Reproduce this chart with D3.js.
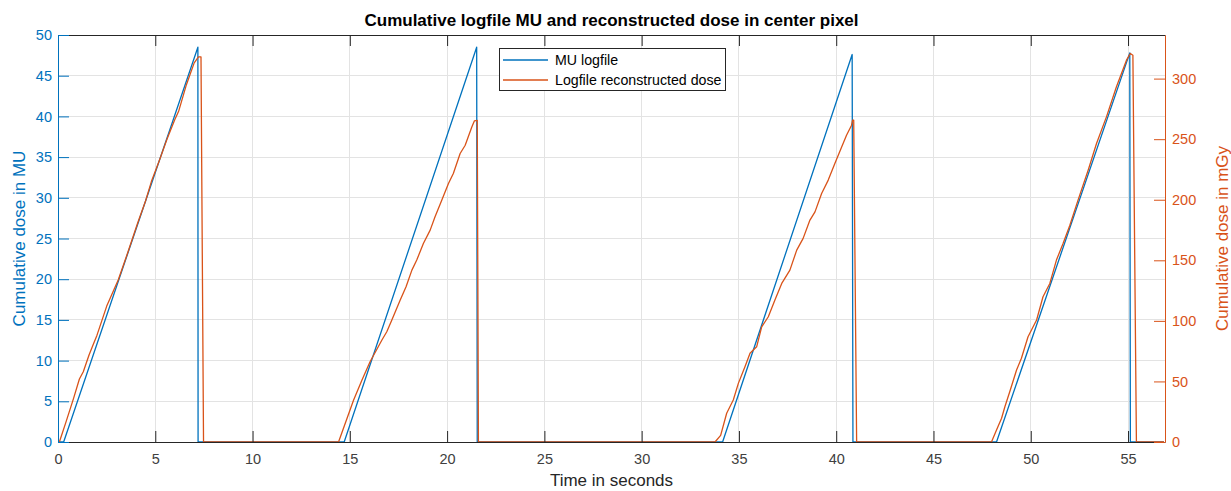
<!DOCTYPE html>
<html>
<head>
<meta charset="utf-8">
<script src="https://cdn.jsdelivr.net/npm/d3@7"></script>
<style>
  html, body { margin: 0; padding: 0; background: #ffffff; }
  svg { display: block; font-family: "Liberation Sans", Arial, Helvetica, sans-serif; }
</style>
</head>
<body>
<svg id="chart" width="1231" height="491"></svg>
<script>
// ---- data ----
const titleText = "Cumulative logfile MU and reconstructed dose in center pixel";
const xLabel = "Time in seconds";
const yLeftLabel = "Cumulative dose in MU";
const yRightLabel = "Cumulative dose in mGy";
const seriesNames = ["MU logfile", "Logfile reconstructed dose"];

const xTicks = [0, 5, 10, 15, 20, 25, 30, 35, 40, 45, 50, 55];
const yLeftTicks = [0, 5, 10, 15, 20, 25, 30, 35, 40, 45, 50];
const yRightTicks = [0, 50, 100, 150, 200, 250, 300];
const xDomain = [0, 56.9];
const yLeftDomain = [0, 50];
const yRightDomain = [0, 336];

// MU logfile (left axis, MU)
const muTime = [0, 0.29, 7.19, 7.20, 14.71, 21.52, 21.55, 34.16, 40.82, 40.86, 48.24, 55.09, 55.12, 56.85];
const muValue = [0, 0, 48.5, 0, 0, 48.5, 0, 0, 47.6, 0, 0, 47.8, 0, 0];

// Logfile reconstructed dose (right axis, mGy)
const doseTime = [
  0, 0.07, 0.4, 0.8, 1.1, 1.3, 1.6, 1.8, 2.0, 2.5, 3.1, 3.6, 4.1, 4.5, 4.8, 5.2, 5.6, 6.0, 6.2, 6.6, 7.0, 7.22, 7.35, 7.48,
  14.42, 15.19, 15.62, 16.04, 16.65, 16.90, 17.16, 17.59, 17.89, 18.19, 18.44, 18.78, 19.13, 19.38, 19.73, 20.07, 20.32, 20.67, 20.93, 21.27, 21.40, 21.55, 21.61,
  33.77, 34.06, 34.37, 34.71, 34.97, 35.31, 35.57, 35.91, 36.17, 36.51, 36.85, 37.20, 37.62, 37.97, 38.30, 38.65, 38.91, 39.25, 39.59, 39.93, 40.28, 40.53, 40.79, 40.84, 40.90, 41.05,
  47.98, 48.24, 48.50, 48.67, 48.92, 49.27, 49.52, 49.86, 50.30, 50.63, 50.98, 51.32, 51.66, 52.01, 52.43, 52.95, 53.38, 53.89, 54.40, 54.92, 55.12, 55.25, 55.43,
  56.85
];
const doseValue = [
  0, 0, 16, 36, 52, 58, 72, 80, 88, 112, 134, 157, 181, 199, 215, 232, 250, 266, 273, 295, 313, 317.9, 317.9, 0,
  0, 34.4, 51.0, 66.3, 84.2, 91.0, 100.7, 117.2, 128.1, 141.9, 150.2, 163.9, 174.9, 185.9, 199.7, 213.4, 221.7, 238.2, 245.0, 260.1, 265.1, 265.5, 0,
  0, 5.5, 23.7, 34.7, 48.4, 62.1, 73.2, 78.6, 95.1, 103.4, 117.2, 130.9, 141.9, 158.4, 168.1, 183.2, 190.0, 205.2, 216.2, 229.9, 243.6, 253.3, 261.5, 265.7, 265.7, 0,
  0, 9.9, 19.6, 29.1, 41.5, 59.4, 69.1, 86.9, 100.7, 119.9, 130.9, 150.2, 163.9, 179.0, 199.7, 224.4, 246.4, 268.4, 293.1, 315.2, 320.7, 319.3, 0,
  0
];

// ---- styling / layout ----
const blue = "#0072BD";
const orange = "#D95319";
const dark = "#262626";
const gridColor = "#e3e3e3";
const W = 1231, H = 491;
const x0 = 58, x1 = 1165, y0 = 442, y1 = 35;

const svg = d3.select("#chart");
svg.append("rect").attr("width", W).attr("height", H).attr("fill", "#fff");

const x = d3.scaleLinear().domain(xDomain).range([x0, x1]);
const yL = d3.scaleLinear().domain(yLeftDomain).range([y0, y1]);
const yR = d3.scaleLinear().domain(yRightDomain).range([y0, y1]);

// grid
const grid = svg.append("g");
grid.selectAll("line.vx").data(xTicks).join("line")
  .attr("x1", d => x(d)).attr("x2", d => x(d)).attr("y1", y0).attr("y2", y1)
  .attr("stroke", gridColor).attr("stroke-width", 1).attr("shape-rendering", "crispEdges");
grid.selectAll("line.hy").data(yLeftTicks).join("line")
  .attr("x1", x0).attr("x2", x1).attr("y1", d => yL(d)).attr("y2", d => yL(d))
  .attr("stroke", gridColor).attr("stroke-width", 1).attr("shape-rendering", "crispEdges");

// lines
const muData = muTime.map((t, i) => [t, muValue[i]]);
const doseData = doseTime.map((t, i) => [t, doseValue[i]]);
svg.append("path").datum(muData)
  .attr("d", d3.line().x(d => x(d[0])).y(d => yL(d[1])))
  .attr("fill", "none").attr("stroke", blue).attr("stroke-width", 1.3).attr("stroke-linejoin", "round");
svg.append("path").datum(doseData)
  .attr("d", d3.line().x(d => x(d[0])).y(d => yR(d[1])))
  .attr("fill", "none").attr("stroke", orange).attr("stroke-width", 1.3).attr("stroke-linejoin", "round");

// axes (MATLAB style: inward ticks)
const tickLen = 11;
const fs = "14.5px";
const ff = "Liberation Sans, Arial, sans-serif";
const bottomAxis = svg.append("g").attr("transform", `translate(0,${y0})`)
  .call(d3.axisBottom(x).tickValues(xTicks).tickSizeInner(-tickLen).tickSizeOuter(0).tickPadding(12));
const topAxis = svg.append("g").attr("transform", `translate(0,${y1})`)
  .call(d3.axisTop(x).tickValues(xTicks).tickSizeInner(-tickLen).tickSizeOuter(0).tickFormat(""));
[bottomAxis, topAxis].forEach(g => {
  g.select(".domain").attr("stroke", dark);
  g.selectAll(".tick line").attr("stroke", dark);
  g.selectAll("text").attr("fill", "#404040").style("font-size", fs).style("font-family", ff);
});
const leftAxis = svg.append("g").attr("transform", `translate(${x0},0)`)
  .call(d3.axisLeft(yL).tickValues(yLeftTicks).tickSizeInner(-tickLen).tickSizeOuter(0).tickPadding(6));
leftAxis.select(".domain").attr("stroke", blue);
leftAxis.selectAll(".tick line").attr("stroke", blue);
leftAxis.selectAll("text").attr("fill", blue).style("font-size", fs).style("font-family", ff);

const rightAxis = svg.append("g").attr("transform", `translate(${x1},0)`)
  .call(d3.axisRight(yR).tickValues(yRightTicks).tickSizeInner(-tickLen).tickSizeOuter(0).tickPadding(7));
rightAxis.select(".domain").attr("stroke", orange);
rightAxis.selectAll(".tick line").attr("stroke", orange);
rightAxis.selectAll("text").attr("fill", orange).style("font-size", fs).style("font-family", ff);

// title and labels
svg.append("text").attr("x", (x0 + x1) / 2).attr("y", 26).attr("text-anchor", "middle")
  .attr("font-weight", "bold").attr("font-size", "17px").attr("fill", "#000").text(titleText);
svg.append("text").attr("x", (x0 + x1) / 2).attr("y", 486).attr("text-anchor", "middle")
  .attr("font-size", "17px").attr("fill", "#262626").text(xLabel);
svg.append("text").attr("transform", `translate(25,${(y0 + y1) / 2}) rotate(-90)`).attr("text-anchor", "middle")
  .attr("font-size", "17px").attr("fill", blue).text(yLeftLabel);
svg.append("text").attr("transform", `translate(1228,${(y0 + y1) / 2}) rotate(-90)`).attr("text-anchor", "middle")
  .attr("font-size", "17px").attr("fill", orange).text(yRightLabel);

// legend
const lg = svg.append("g");
lg.append("rect").attr("x", 499.5).attr("y", 48.5).attr("width", 226).attr("height", 42)
  .attr("fill", "#fff").attr("stroke", dark).attr("stroke-width", 1);
const legendColors = [blue, orange];
seriesNames.forEach((name, i) => {
  const yy = 60 + i * 20;
  lg.append("line").attr("x1", 503).attr("x2", 548).attr("y1", yy).attr("y2", yy)
    .attr("stroke", legendColors[i]).attr("stroke-width", 1.3);
  lg.append("text").attr("x", 555).attr("y", yy + 5).attr("font-size", "14.2px").attr("fill", "#000").text(name);
});
</script>
</body>
</html>
